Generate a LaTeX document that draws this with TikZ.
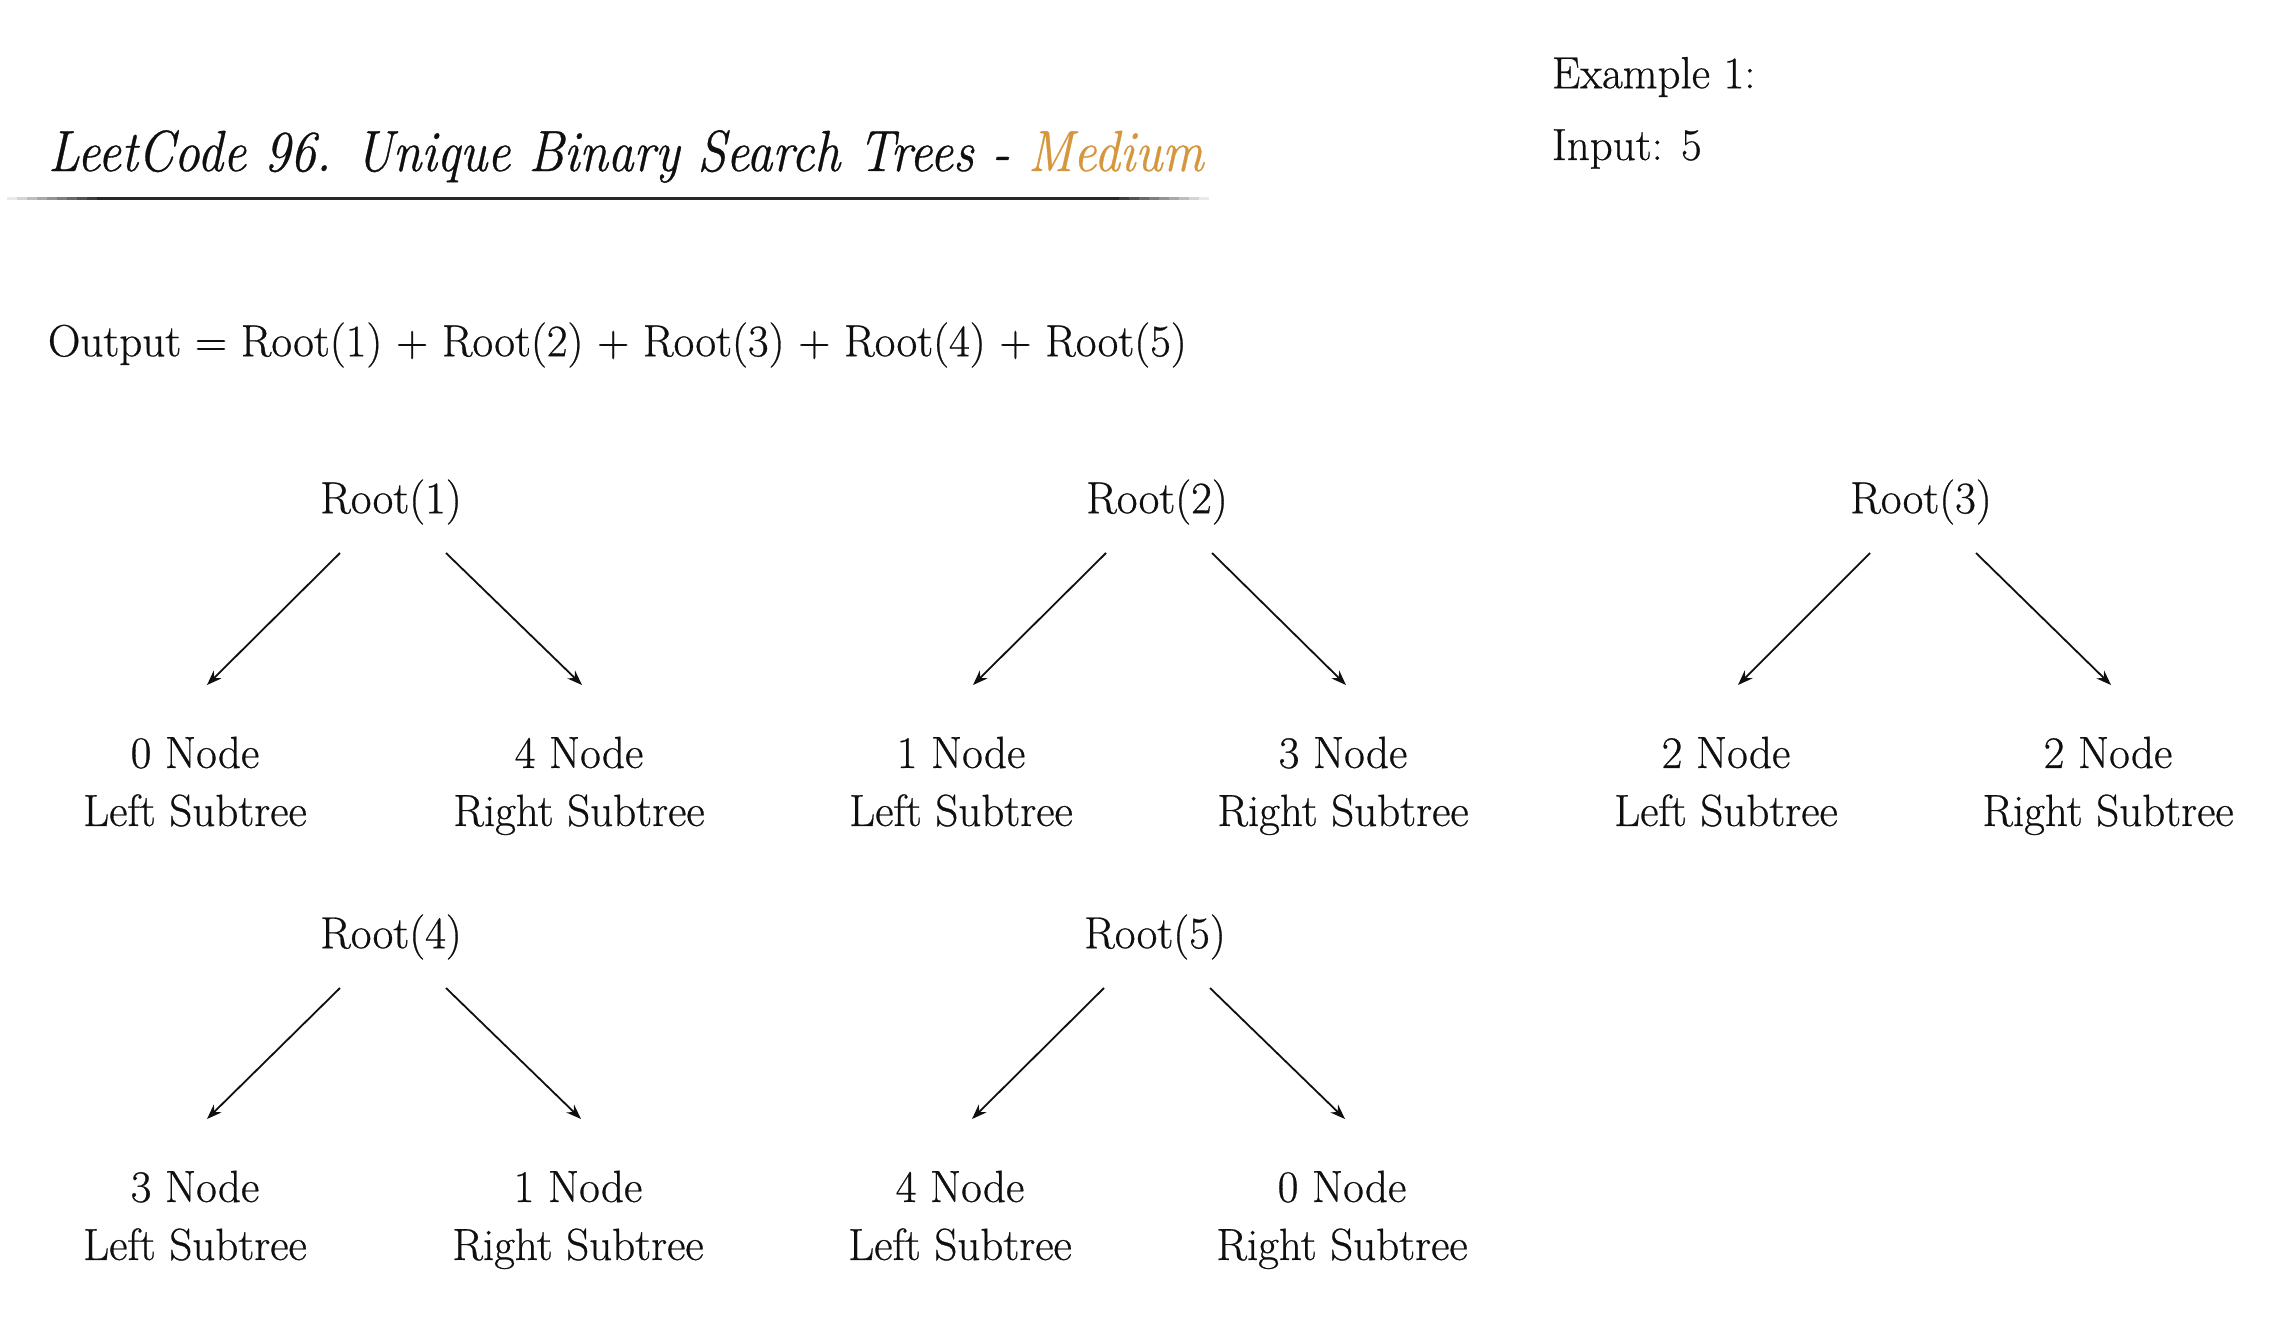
\documentclass[tikz,border=0pt]{standalone}
\usepackage{fontspec}
\setmainfont{Latin Modern Roman}[FakeBold=0.6]
\usetikzlibrary{calc,arrows.meta}
\definecolor{ink}{RGB}{15,15,15}
\definecolor{medium}{RGB}{214,150,62}
\definecolor{rulegray}{RGB}{40,40,40}
\begin{document}
\begin{tikzpicture}[x=1pt,y=-1pt,
  every node/.style={inner sep=0pt,outer sep=0pt,text=ink},
  txt/.style={font=\fontsize{45}{58}\selectfont},
  rootlbl/.style={txt},
  sub/.style={txt,align=center},
  edge/.style={draw=ink,line width=1.8pt,-{Stealth[length=15pt,width=11pt]}}]
\useasboundingbox (0,0) rectangle (2270,1338);

% heading
\node[anchor=base west,font=\fontsize{58}{60}\selectfont\itshape] (title) at (48,171)
  {\scalebox{0.89}[1]{LeetCode 96. Unique Binary Search Trees - \textcolor{medium}{Medium}}};
% rule under the heading, fading out at both ends
\fill[rulegray] (107,196.5) rectangle (1110,199.5);
\foreach \k in {0,...,9}{
  \pgfmathsetmacro{\shadeamt}{10*(\k+1)}
  \fill[rulegray!\shadeamt!white] (7+10*\k,196.5) rectangle (17.5+10*\k,199.5);
  \fill[rulegray!\shadeamt!white] (1209-10*\k,196.5) rectangle (1198.5-10*\k,199.5);
}

\node[txt,anchor=west] (ex) at (1552,77) {Example 1:};
\node[txt,anchor=west] (in) at (1552,149) {Input: 5};

\node[txt,anchor=west] (out) at (48,345)
  {Output = Root(1) + Root(2) + Root(3) + Root(4) + Root(5)};

% roots
\node[rootlbl] (r1) at (391,502) {Root(1)};
\node[rootlbl] (r2) at (1157,502) {Root(2)};
\node[rootlbl] (r3) at (1921,502) {Root(3)};
\node[rootlbl] (r4) at (391,937) {Root(4)};
\node[rootlbl] (r5) at (1155,937) {Root(5)};

% subtrees
\node[sub] (l1) at (195,790) {0 Node\\Left Subtree\strut};
\node[sub] (s1) at (579,790) {4 Node\\Right Subtree\strut};
\node[sub] (l2) at (961,790) {1 Node\\Left Subtree\strut};
\node[sub] (s2) at (1343,790) {3 Node\\Right Subtree\strut};
\node[sub] (l3) at (1726,790) {2 Node\\Left Subtree\strut};
\node[sub] (s3) at (2108,790) {2 Node\\Right Subtree\strut};
\node[sub] (l4) at (195,1224) {3 Node\\Left Subtree\strut};
\node[sub] (s4) at (578,1224) {1 Node\\Right Subtree\strut};
\node[sub] (l5) at (960,1224) {4 Node\\Left Subtree\strut};
\node[sub] (s5) at (1342,1224) {0 Node\\Right Subtree\strut};

% connectors
\foreach \i in {1,...,5}{
  \draw[edge] ($(r\i)+(-51,51)$) -- ($(l\i)+(12,-105)$);
  \draw[edge] ($(r\i)+(55,51)$) -- ($(s\i)+(3,-105)$);
}
\end{tikzpicture}
\end{document}
